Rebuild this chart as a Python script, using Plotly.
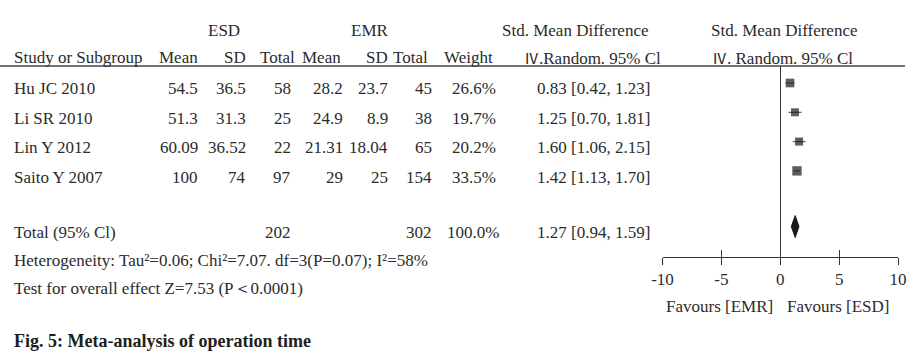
import plotly.graph_objects as go

# ---------------- data ----------------
studies = ["Hu JC 2010", "Li SR 2010", "Lin Y 2012", "Saito Y 2007"]
esd_mean = ["54.5", "51.3", "60.09", "100"]
esd_sd = ["36.5", "31.3", "36.52", "74"]
esd_total = [58, 25, 22, 97]
emr_mean = ["28.2", "24.9", "21.31", "29"]
emr_sd = ["23.7", "8.9", "18.04", "25"]
emr_total = [45, 38, 65, 154]
weights = [26.6, 19.7, 20.2, 33.5]
smd = [0.83, 1.25, 1.60, 1.42]
ci_low = [0.42, 0.70, 1.06, 1.13]
ci_high = [1.23, 1.81, 2.15, 1.70]

total_label = "Total (95% Cl)"
total_esd = 202
total_emr = 302
total_weight = 100.0
total_smd = 1.27
total_low = 0.94
total_high = 1.59

heterogeneity = "Heterogeneity: Tau²=0.06; Chi²=7.07. df=3(P=0.07); I²=58%"
overall = "Test for overall effect Z=7.53 (P\uff1c0.0001)"
caption = "Fig. 5: Meta-analysis of operation time"
tick_vals = [-10, -5, 0, 5, 10]
tick_text = ["-10", "-5", "0", "5", "10"]
fav_left = "Favours [EMR]"
fav_right = "Favours [ESD]"
roman_iv = "\u2163"

# ---------------- layout constants ----------------
W, H = 914, 357
FONT = "Liberation Serif"
CJK = "Noto Sans CJK SC"
FS = 17
TXT = "#2b2b2b"
LINE = "#333333"
PX_ROW0, PX_GAP, TOTAL_ROW = 83.0, 29.3, 4.9
TEXT_ROW0, TEXT_GAP = 88.5, 29.7
TOTAL_TEXT_Y = 232.5
AX_TOP, AX_BOT = 66.0, 257.0
X_LEFT, X_RIGHT = 662.5, 898.0

def fx(px):
    return px / W

def fy(py):
    return 1 - py / H

annotations = []

def txt(s, x, y, anchor="right", size=FS, bold=False, color=TXT):
    annotations.append(dict(
        text=f"<b>{s}</b>" if bold else s,
        x=fx(x), y=fy(y), xref="paper", yref="paper",
        xanchor=anchor, yanchor="middle", showarrow=False,
        font=dict(family=FONT, size=size, color=color),
    ))

iv = f"<span style='font-family:{CJK};font-size:15px'>{roman_iv}</span>"

# headers
txt("ESD", 224, 30, "center")
txt("EMR", 370, 30, "center")
txt("Std. Mean Difference", 575, 30, "center")
txt("Std. Mean Difference", 784, 30, "center")
txt("Study or Subgroup", 12, 58, "left")
txt("Mean", 200, 58)
txt("SD", 248, 58)
txt("Total", 297, 58)
txt("Mean", 343, 58)
txt("SD", 390, 58)
txt("Total", 430, 58)
txt("Weight", 495, 58)
txt(iv + ".Random. 95% Cl", 522, 58, "left")
txt(iv + ". Random. 95% Cl", 710, 58, "left")

# study rows
for i, name in enumerate(studies):
    y = TEXT_ROW0 + i * TEXT_GAP
    txt(name, 12, y, "left")
    txt(esd_mean[i], 200, y)
    txt(esd_sd[i], 248, y)
    txt(str(esd_total[i]), 293, y)
    txt(emr_mean[i], 345, y)
    txt(emr_sd[i], 390, y)
    txt(str(emr_total[i]), 434, y)
    txt(f"{weights[i]:.1f}%", 498, y)
    txt(f"{smd[i]:.2f} [{ci_low[i]:.2f}, {ci_high[i]:.2f}]", 535, y, "left")

# total row
txt(total_label, 12, TOTAL_TEXT_Y, "left")
txt(str(total_esd), 293, TOTAL_TEXT_Y)
txt(str(total_emr), 434, TOTAL_TEXT_Y)
txt(f"{total_weight:.1f}%", 501, TOTAL_TEXT_Y)
txt(f"{total_smd:.2f} [{total_low:.2f}, {total_high:.2f}]", 535, TOTAL_TEXT_Y, "left")

txt(heterogeneity, 12, 260, "left")
txt(overall, 12, 288, "left")
txt(caption, 12, 341, "left", size=18, bold=True, color="#1e1e1e")
txt(fav_left, 775, 306, "right")
txt(fav_right, 785, 306, "left")

fig = go.Figure()

# study markers with CI whiskers
rows = list(range(len(studies)))
fig.add_trace(go.Scatter(
    x=smd, y=rows, mode="markers",
    marker=dict(symbol="square", color="#1a1a1a",
                size=[6 + w * 0.1 for w in weights], line=dict(width=0)),
    error_x=dict(type="data", symmetric=False,
                 array=[h - m for h, m in zip(ci_high, smd)],
                 arrayminus=[m - l for m, l in zip(smd, ci_low)],
                 color="#666666", thickness=1.2, width=0),
    showlegend=False, hoverinfo="skip", cliponaxis=False,
))

# pooled diamond
hh = 11.0 / PX_GAP
fig.add_trace(go.Scatter(
    x=[total_low, total_smd, total_high, total_smd, total_low],
    y=[TOTAL_ROW, TOTAL_ROW - hh, TOTAL_ROW, TOTAL_ROW + hh, TOTAL_ROW],
    mode="lines", fill="toself", fillcolor="#1a1a1a",
    line=dict(color="#1a1a1a", width=1),
    showlegend=False, hoverinfo="skip",
))

# invisible trace to carry the overlay axis (inside ticks)
fig.add_trace(go.Scatter(
    x=tick_vals, y=[None] * len(tick_vals), xaxis="x2", mode="markers",
    showlegend=False, hoverinfo="skip",
))

r_top = (AX_TOP - PX_ROW0) / PX_GAP
r_bot = (AX_BOT - PX_ROW0) / PX_GAP
xdom = [fx(X_LEFT), fx(X_RIGHT)]

fig.update_layout(
    width=W, height=H, autosize=False,
    margin=dict(l=0, r=0, t=0, b=0, pad=0, autoexpand=False),
    paper_bgcolor="white", plot_bgcolor="white",
    showlegend=False,
    xaxis=dict(
        domain=xdom, range=[-10, 10], tickvals=tick_vals, ticktext=tick_text,
        ticks="outside", ticklen=7, tickwidth=1, tickcolor=LINE,
        showline=True, linecolor=LINE, linewidth=1,
        zeroline=True, zerolinecolor=LINE, zerolinewidth=1,
        showgrid=False, fixedrange=True, automargin=False,
        tickfont=dict(family=FONT, size=FS, color=TXT),
        anchor="y",
    ),
    xaxis2=dict(
        domain=xdom, range=[-10, 10], tickvals=tick_vals,
        ticks="inside", ticklen=7, tickwidth=1, tickcolor=LINE,
        showticklabels=False, showline=False, showgrid=False, zeroline=False,
        overlaying="x", anchor="y", side="bottom", fixedrange=True,
        automargin=False,
    ),
    yaxis=dict(
        domain=[fy(AX_BOT), fy(AX_TOP)], range=[r_bot, r_top],
        visible=False, showgrid=False, zeroline=False, fixedrange=True,
        automargin=False,
    ),
    annotations=annotations,
    shapes=[dict(type="line", xref="paper", yref="paper",
                 x0=0, x1=fx(905), y0=fy(AX_TOP), y1=fy(AX_TOP),
                 line=dict(color="#444444", width=1.3))],
)

fig.write_html(
    "out.html",
    config={"displayModeBar": False},
    post_script="document.body.style.margin='0';document.body.style.overflow='hidden';",
)
